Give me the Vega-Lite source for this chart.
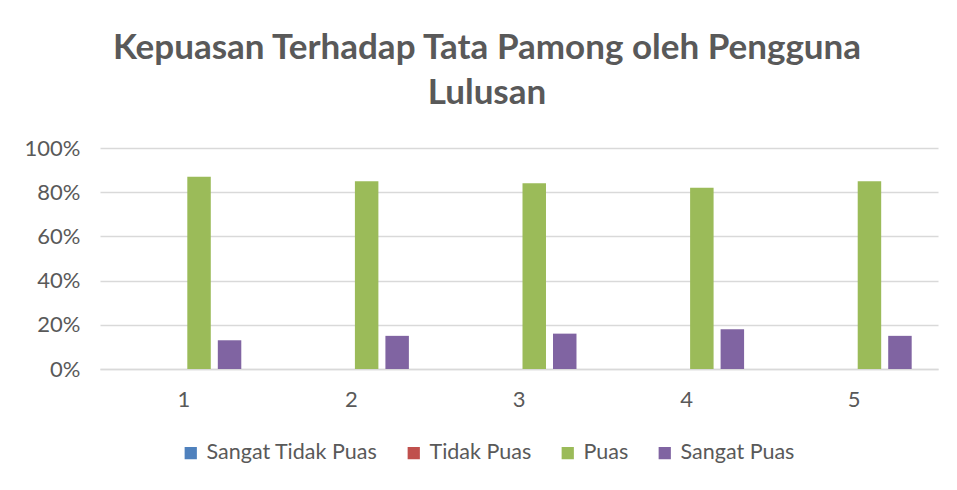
{
  "$schema": "https://vega.github.io/schema/vega-lite/v6.json",
  "width": 838,
  "height": 221,
  "autosize": {"type": "none"},
  "padding": {"left": 100, "top": 148, "right": 19, "bottom": 121},
  "background": "white",
  "title": {
    "text": ["Kepuasan Terhadap Tata Pamong oleh Pengguna", "Lulusan"],
    "font": "Lato",
    "fontSize": 35,
    "fontWeight": "bold",
    "color": "#595959",
    "anchor": "middle",
    "dx": -32,
    "offset": 26,
    "lineHeight": 45
  },
  "data": {
    "values": [
      {"k": "1", "series": "Sangat Tidak Puas", "value": 0},
      {"k": "1", "series": "Tidak Puas", "value": 0},
      {"k": "1", "series": "Puas", "value": 0.87},
      {"k": "1", "series": "Sangat Puas", "value": 0.13},
      {"k": "2", "series": "Sangat Tidak Puas", "value": 0},
      {"k": "2", "series": "Tidak Puas", "value": 0},
      {"k": "2", "series": "Puas", "value": 0.85},
      {"k": "2", "series": "Sangat Puas", "value": 0.15},
      {"k": "3", "series": "Sangat Tidak Puas", "value": 0},
      {"k": "3", "series": "Tidak Puas", "value": 0},
      {"k": "3", "series": "Puas", "value": 0.84},
      {"k": "3", "series": "Sangat Puas", "value": 0.16},
      {"k": "4", "series": "Sangat Tidak Puas", "value": 0},
      {"k": "4", "series": "Tidak Puas", "value": 0},
      {"k": "4", "series": "Puas", "value": 0.82},
      {"k": "4", "series": "Sangat Puas", "value": 0.18},
      {"k": "5", "series": "Sangat Tidak Puas", "value": 0},
      {"k": "5", "series": "Tidak Puas", "value": 0},
      {"k": "5", "series": "Puas", "value": 0.85},
      {"k": "5", "series": "Sangat Puas", "value": 0.15}
    ]
  },
  "mark": {"type": "bar"},
  "encoding": {
    "x": {
      "field": "k",
      "type": "nominal",
      "title": null,
      "scale": {"paddingInner": 0.314, "paddingOuter": 0.157},
      "axis": {
        "labelAngle": 0,
        "labelFont": "Lato",
        "labelFontSize": 22,
        "labelColor": "#595959",
        "labelPadding": 20,
        "ticks": false,
        "domain": true,
        "domainColor": "#D9D9D9",
        "domainWidth": 1.5
      }
    },
    "xOffset": {
      "field": "series",
      "type": "nominal",
      "sort": ["Sangat Tidak Puas", "Tidak Puas", "Puas", "Sangat Puas"],
      "scale": {"paddingInner": 0.23, "paddingOuter": 0}
    },
    "y": {
      "field": "value",
      "type": "quantitative",
      "title": null,
      "scale": {"domain": [0, 1], "nice": false},
      "axis": {
        "values": [0, 0.2, 0.4, 0.6, 0.8, 1],
        "format": ".0%",
        "labelFont": "Lato",
        "labelFontSize": 22,
        "labelColor": "#595959",
        "labelPadding": 20,
        "ticks": false,
        "domain": false,
        "grid": true,
        "gridColor": "#D9D9D9",
        "gridWidth": 1.5
      }
    },
    "color": {
      "field": "series",
      "type": "nominal",
      "sort": ["Sangat Tidak Puas", "Tidak Puas", "Puas", "Sangat Puas"],
      "scale": {
        "domain": ["Sangat Tidak Puas", "Tidak Puas", "Puas", "Sangat Puas"],
        "range": ["#4F81BD", "#C0504D", "#9BBB59", "#8064A2"]
      },
      "legend": {
        "title": null,
        "orient": "none",
        "direction": "horizontal",
        "legendX": 80,
        "legendY": 294,
        "symbolType": "square",
        "symbolSize": 150,
        "symbolStrokeWidth": 0,
        "labelFont": "Lato",
        "labelFontSize": 21.5,
        "labelColor": "#595959",
        "labelOffset": 5,
        "labelLimit": 400,
        "columnPadding": 25
      }
    }
  },
  "config": {
    "view": {"stroke": null}
  }
}
